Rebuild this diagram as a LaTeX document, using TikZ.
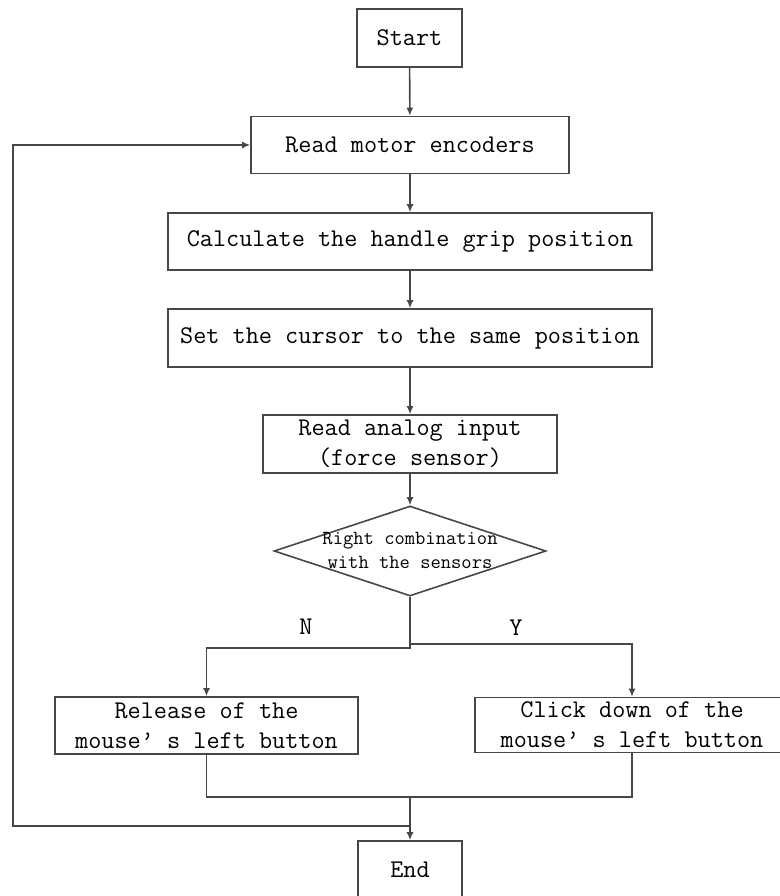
\documentclass[tikz,border=0pt]{standalone}
\usepackage{fontspec}
\usetikzlibrary{shapes.geometric,arrows.meta}
\begin{document}
\begin{tikzpicture}[x=1pt, y=-1pt, >={Latex[length=8pt, width=7pt]}, line width=1.6pt, color=black!72,
	box/.style={draw, rectangle, inner sep=0pt, text=black, align=center, font=\ttfamily\fontsize{25.5}{30}\selectfont},
	decision/.style={draw, diamond, inner sep=0pt, minimum width=272pt, minimum height=90pt},
	lbl/.style={text=black, font=\ttfamily\fontsize{25.5}{30}\selectfont},
	txt/.style={text=black, align=center, font=\ttfamily\fontsize{20}{24}\selectfont}]
	\useasboundingbox (0, 0) rectangle (779, 896);
	\node(A)[box, minimum width=105pt, minimum height=58pt] at (409.5, 38){Start};
	\node(B)[box, minimum width=318pt, minimum height=57pt] at (410, 145){Read motor encoders};
	\node(C)[box, minimum width=484pt, minimum height=57pt] at (410, 241.5){Calculate the handle grip position};
	\node(D)[box, minimum width=484pt, minimum height=58pt] at (410, 338){Set the cursor to the same position};
	\node(E)[box, minimum width=294pt, minimum height=58pt] at (410, 444){Read analog input\\(force sensor)};
	\node(F)[decision] at (410, 551){};
	\node(F1)[txt] at (410, 550){Right combination\\with the sensors};
	\node(G)[box, minimum width=303pt, minimum height=57pt] at (206.5, 725.5){Release of the\\mouse’ s left button};
	\node(H)[box, minimum width=314pt, minimum height=55pt] at (632, 725){Click down of the\\mouse’ s left button};
	\node(I)[box, minimum width=104pt, minimum height=58pt] at (410, 870){End};
	\node(N)[lbl] at (306, 627){N};
	\node(Y)[lbl] at (516, 628){Y};
	\coordinate(M) at (410, 797);
	\coordinate(K) at (410, 826);
	\coordinate(L) at (13, 826);

	\draw [->] (A) -- (B);
	\draw [->] (B) -- (C);
	\draw [->] (C) -- (D);
	\draw [->] (D) -- (E);
	\draw [->] (E) -- (F);
	\draw [->] (F.south) -- ++(0, 51) -| (G.north);
	\draw [->] (F.south) -- ++(0, 47) -| (H.north);
	\draw (G.south) |- (M);
	\draw (H.south) |- (M);
	\draw [->] (M) -- (I);
	\draw [->] (K) -- (L) |- (B.west);
\end{tikzpicture}
\end{document}
